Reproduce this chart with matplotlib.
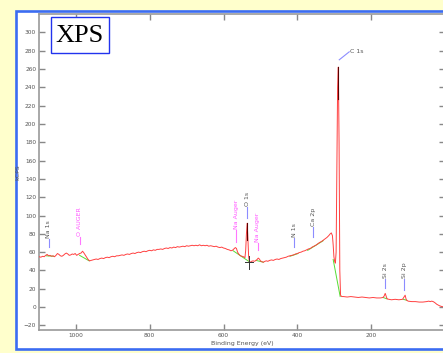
import numpy as np
import matplotlib
matplotlib.use("Agg")
from matplotlib import pyplot as plt
from matplotlib.patches import Rectangle

# widmo przeglądowe XPS: energia wiązania (eV) i zliczenia (kCPS)
energia = [1100, 1095, 1090, 1086, 1082, 1078, 1074, 1070, 1066, 1062, 1058, 1054, 1050, 1046,
           1042, 1038, 1034, 1030, 1026, 1022, 1018, 1014, 1010, 1006, 1002, 998, 994, 990, 986,
           982, 979, 975, 971, 967, 963, 959, 955, 950, 945, 940, 935, 930, 925, 920, 915, 910,
           905, 900, 895, 890, 885, 880, 875, 870, 865, 860, 855, 850, 845, 840, 835, 830, 825,
           820, 815, 810, 805, 800, 795, 790, 785, 780, 775, 770, 765, 760, 755, 750, 745, 740,
           735, 730, 725, 720, 715, 710, 705, 700, 695, 690, 685, 680, 675, 670, 665, 660, 655,
           650, 645, 640, 635, 630, 625, 620, 615, 610, 605, 600, 595, 590, 585, 580, 576, 572,
           568, 565, 562, 558, 554, 550, 546, 542, 540, 538, 536, 534, 532, 530, 527, 524, 520,
           516, 512, 509, 506, 503, 500, 496, 492, 488, 484, 480, 475, 470, 465, 460, 455, 450,
           445, 440, 435, 430, 425, 420, 415, 410, 405, 400, 395, 390, 385, 380, 375, 370, 365,
           360, 355, 350, 345, 340, 335, 330, 325, 320, 315, 311, 308, 305, 303, 301, 299, 297,
           295, 293, 291, 289, 287, 285, 283, 280, 275, 265, 255, 245, 235, 225, 215, 205, 195,
           185, 175, 168, 165, 162, 160, 157, 152, 145, 135, 125, 115, 111, 108, 105, 100, 90,
           80, 70, 60, 50, 44, 40, 36, 32, 28, 22, 15, 8, 0]
kcps = [55.0, 54.5, 55.5, 55.0, 56.5, 57.5, 56.0, 56.5, 55.5, 56.0, 55.0, 56.5, 58.5, 57.5,
        56.0, 55.5, 56.5, 58.0, 59.0, 58.0, 56.5, 57.0, 58.0, 57.5, 58.5, 56.5, 57.5, 58.5, 59.0,
        61.0, 59.5, 57.0, 54.5, 52.0, 50.5, 51.0, 51.5, 52.0, 52.5, 52.0, 53.0, 53.5, 53.0, 54.0,
        54.5, 54.0, 55.0, 55.5, 55.0, 56.0, 56.0, 56.5, 57.0, 56.5, 57.5, 58.0, 57.5, 58.5, 59.0,
        58.5, 59.5, 60.0, 59.5, 60.5, 61.0, 60.5, 61.5, 62.0, 61.5, 62.5, 62.0, 63.0, 63.0, 63.5,
        63.0, 64.0, 64.5, 64.0, 65.0, 64.5, 65.5, 65.0, 66.0, 65.5, 66.0, 66.5, 66.0, 67.0, 66.5,
        67.0, 67.5, 67.0, 67.5, 67.0, 68.0, 67.0, 67.5, 67.0, 67.5, 66.5, 67.0, 66.5, 66.0, 66.5,
        65.5, 65.0, 65.5, 64.5, 64.0, 63.0, 62.5, 61.5, 62.0, 63.5, 65.0, 64.0, 60.0, 57.5, 56.0,
        55.5, 55.0, 54.0, 62.0, 80.0, 91.5, 75.0, 55.0, 49.5, 49.0, 50.0, 50.5, 50.0, 51.0, 52.0,
        53.5, 52.5, 50.5, 49.5, 49.0, 50.0, 50.5, 50.0, 51.0, 51.5, 51.0, 52.0, 52.5, 52.0, 53.0,
        53.5, 54.0, 54.5, 55.5, 56.0, 56.5, 57.0, 58.0, 58.5, 59.5, 60.0, 61.0, 61.5, 62.5, 63.5,
        64.0, 65.5, 66.5, 67.5, 69.0, 70.5, 71.5, 73.0, 74.5, 76.0, 78.0, 80.0, 81.0, 78.0, 68.0,
        55.0, 50.0, 48.0, 60.0, 150.0, 240.0, 262.0, 180.0, 40.0, 13.0, 11.5, 11.5, 11.0, 11.5,
        11.0, 10.5, 11.0, 10.5, 10.0, 10.5, 10.0, 10.0, 10.5, 12.0, 15.0, 12.5, 9.0, 8.5, 8.0,
        8.5, 8.0, 8.5, 11.0, 13.0, 8.0, 6.5, 6.0, 6.0, 5.5, 5.5, 6.0, 6.5, 6.0, 6.5, 6.0, 5.0,
        3.0, 1.5, 0.5, 0.3]

# linie tła pod pikami (zielone)
tlo_e = [[1080, 1060], [990, 964], [574, 530], [512, 492], [420, 398], [372, 330],
         [303, 284], [168, 157], [113, 104]]
tlo_v = [[56.0, 55.5], [56.5, 50.5], [61.5, 49.5], [51.0, 49.0], [55.5, 58.5], [62.0, 72.5],
         [52.0, 11.5], [10.5, 9.0], [8.5, 7.5]]

# opisy pików: tekst, energia, kolor, dolny i górny koniec kreski
opisy = ["Na 1s", "O AUGER", "Na Auger", "O 1s", "Na Auger", "N 1s", "Ca 2p", "Si 2s", "Si 2p"]
opisy_e = [1073, 989, 565, 536, 508, 408, 357, 162, 111]
opisy_typ = ["pik", "auger", "auger", "pik", "auger", "pik", "pik", "pik", "pik"]
kreska_od = [65.6, 68.9, 71.0, 97.0, 62.0, 65.6, 76.5, 20.8, 18.6]
kreska_do = [74.3, 76.5, 84.0, 109.0, 70.0, 75.0, 87.0, 30.6, 30.6]

kolory = {"pik": ("#555555", "#8c8cff"), "auger": ("#ff55ff", "#ff77ff")}

fig = plt.figure(figsize=(4.43, 3.53), dpi=100)
fig.patch.set_facecolor("#ffffcc")

# niebieska ramka panelu
fig.patches.append(Rectangle((15.5 / 443, 1 - 348.5 / 353), 1.2, (348.5 - 10.5) / 353,
                             transform=fig.transFigure, facecolor="white",
                             edgecolor="#3b6cf2", linewidth=1.9, zorder=-5))

ax = fig.add_axes([39 / 443, 1 - 330 / 353, 406 / 443, 316 / 353])
ax.set_zorder(1)
ax.set_facecolor("white")

ax.plot(energia, kcps, color="#ff4040", lw=0.7, zorder=3)
for e, v in zip(tlo_e, tlo_v):
    ax.plot(e, v, color="#55dd33", lw=0.7, zorder=2)

# ciemne wierzchołki pików O 1s i C 1s
ax.plot([536, 536], [73, 91.5], color="#5a0000", lw=0.8, zorder=4)
ax.plot([289, 289], [227, 262], color="#5a0000", lw=0.8, zorder=4)
# krzyżyk przy O 1s
ax.plot([532, 532], [42, 56], color="#333333", lw=0.7, zorder=5)
ax.plot([543, 521], [49.5, 49.5], color="#333333", lw=0.7, zorder=5)

for tekst, e, typ, d, g in zip(opisy, opisy_e, opisy_typ, kreska_od, kreska_do):
    kol_t, kol_k = kolory[typ]
    ax.plot([e, e], [d, g], color=kol_k, lw=0.8, zorder=4)
    ax.text(e, g + 1, tekst, rotation=90, ha="center", va="bottom",
            fontsize=4.5, color=kol_t)

# C 1s opisany poziomo z ukośną kreską
ax.plot([286.5, 259.5], [270, 278.7], color="#8c8cff", lw=0.8)
ax.text(258, 279, "C 1s", ha="left", va="center", fontsize=4.5, color="#555555")

ax.set_xlim(1100, 0)
ax.set_ylim(-25, 320)
ax.set_xticks([1000, 800, 600, 400, 200])
ax.set_yticks(np.arange(-20, 301, 20))
ax.tick_params(direction="in", length=4.5, width=1.0, color="#888888",
               labelsize=4.2, labelcolor="#555555", top=True, right=True, pad=2)
for s in ax.spines.values():
    s.set_color("#999999")
    s.set_linewidth(1.2)
ax.set_xlabel("Binding Energy (eV)", fontsize=4.5, color="#555555", labelpad=2)
ax.set_ylabel("kCPS", fontsize=4.5, color="#555555")
ax.yaxis.set_label_coords(-19 / 406, 0.5)

# ramka z napisem XPS
fig.patches.append(Rectangle((51 / 443, 1 - 53 / 353), 58 / 443, 36 / 353,
                             transform=fig.transFigure, facecolor="white",
                             edgecolor="#2233ee", linewidth=1.0, zorder=5))
fig.text(80 / 443, 1 - 35.5 / 353, "XPS", family="Liberation Serif", fontsize=19,
         ha="center", va="center", zorder=6)

fig.savefig("out.png", dpi=100, facecolor=fig.get_facecolor())
